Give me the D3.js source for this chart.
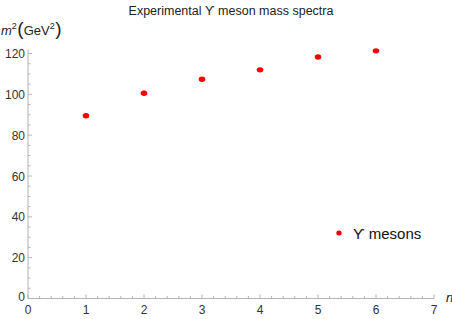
<!DOCTYPE html>
<html>
<head>
<meta charset="utf-8">
<script src="https://cdn.jsdelivr.net/npm/d3@7/dist/d3.min.js"></script>
<style>
  body { margin: 0; background: #fff; }
  svg { display: block; font-family: "Liberation Sans", Arial, sans-serif; }
</style>
</head>
<body>
<svg id="graph" width="452" height="319"></svg>
<script>
// data
const n_values = [1, 2, 3, 4, 5, 6]
const m2_values = [89.5, 100.5, 107.4, 112.0, 118.3, 121.3]
const x_ticks = [0, 1, 2, 3, 4, 5, 6, 7]
const y_ticks = [0, 20, 40, 60, 80, 100, 120]

const x0 = 28, x1 = 434
const y0 = 298.5, y120 = 53.5
const axis_color = "#b4b4b4"
const label_color = "#333"

const svg = d3.select("#graph")

const x = d3.scaleLinear().domain([0, 7]).range([x0, x1])
const y = d3.scaleLinear().domain([0, 120]).range([y0, y120])

// x axis
const gx = svg.append("g").attr("transform", `translate(0,${y0})`)
gx.append("line")
  .attr("x1", x(0)).attr("x2", x(7))
  .attr("stroke", axis_color)
gx.selectAll(".minor")
  .data(d3.range(0, 7.001, 0.2))
  .enter().append("line")
  .attr("x1", d => x(d)).attr("x2", d => x(d))
  .attr("y1", 0).attr("y2", d => Math.abs(d - Math.round(d)) < 1e-6 ? -4 : -2.5)
  .attr("stroke", axis_color)
gx.selectAll(".lbl")
  .data(x_ticks)
  .enter().append("text")
  .attr("x", d => x(d)).attr("y", 15.5)
  .attr("text-anchor", "middle")
  .attr("font-size", 12).attr("fill", label_color)
  .text(d => d)

// y axis
const gy = svg.append("g").attr("transform", `translate(${x0},0)`)
gy.append("line")
  .attr("y1", y(0)).attr("y2", y(122))
  .attr("stroke", axis_color)
gy.selectAll(".minor")
  .data(d3.range(0, 121, 5))
  .enter().append("line")
  .attr("y1", d => y(d)).attr("y2", d => y(d))
  .attr("x1", 0).attr("x2", d => d % 20 == 0 ? 4 : 2.5)
  .attr("stroke", axis_color)
gy.selectAll(".lbl")
  .data(y_ticks)
  .enter().append("text")
  .attr("x", -3).attr("y", d => y(d) + (d == 0 ? 2 : 4.5))
  .attr("text-anchor", "end")
  .attr("font-size", 12).attr("fill", label_color)
  .text(d => d)

// points
svg.selectAll(".pt")
  .data(n_values)
  .enter().append("ellipse")
  .attr("cx", d => x(d))
  .attr("cy", (d, i) => y(m2_values[i]))
  .attr("rx", 3.3).attr("ry", 2.7)
  .attr("fill", "#ff0000")

// title
svg.append("text")
  .attr("x", 231).attr("y", 15)
  .attr("text-anchor", "middle")
  .attr("font-size", 12.5).attr("fill", "#222")
  .text("Experimental ϒ meson mass spectra")

// y axis title
const yt = svg.append("text").attr("x", 1).attr("y", 35).attr("font-size", 13).attr("fill", "#222")
yt.append("tspan").attr("font-style", "italic").text("m")
yt.append("tspan").attr("font-size", 9).attr("dy", -6).text("2")
yt.append("tspan").attr("font-size", 19).attr("dy", 6).attr("dx", 0.5).text("(")
yt.append("tspan").text("GeV")
yt.append("tspan").attr("font-size", 9).attr("dy", -6).text("2")
yt.append("tspan").attr("font-size", 19).attr("dy", 6).attr("dx", 0.5).text(")")

// x axis title
svg.append("text")
  .attr("x", 446).attr("y", 302)
  .attr("font-size", 13).attr("font-style", "italic").attr("fill", "#222")
  .text("n")

// legend
svg.append("ellipse").attr("cx", 339).attr("cy", 233).attr("rx", 2.7).attr("ry", 2.5).attr("fill", "#ff0000")
svg.append("text")
  .attr("x", 353).attr("y", 238.5)
  .attr("font-size", 15).attr("fill", "#111")
  .text("ϒ mesons")
</script>
</body>
</html>
